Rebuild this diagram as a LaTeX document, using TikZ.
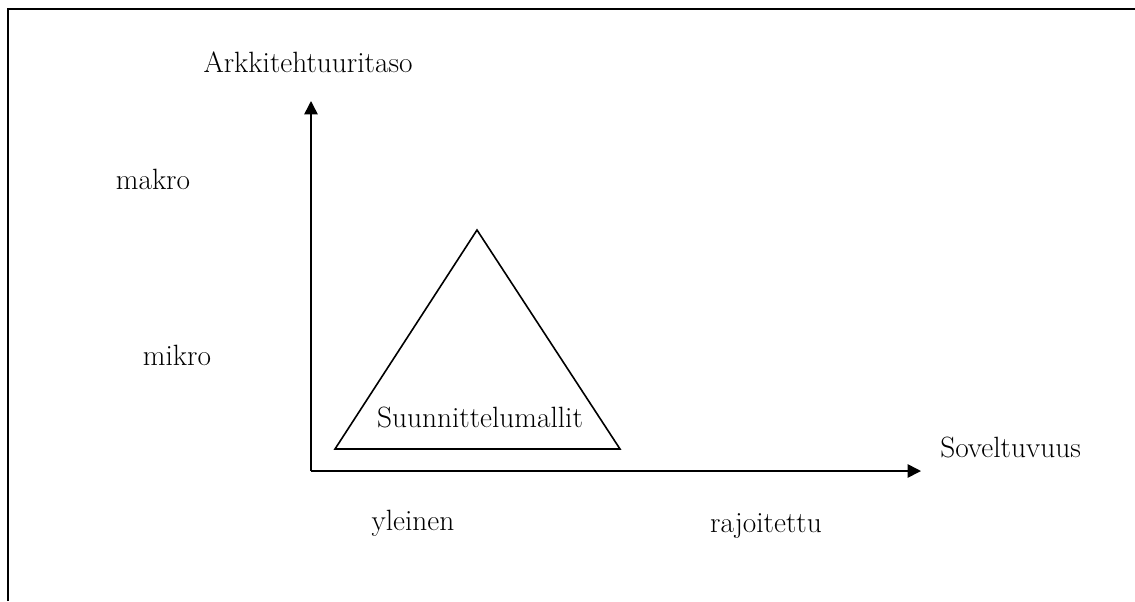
\documentclass[tikz,border=0pt]{standalone}
\usetikzlibrary{arrows.meta}
\tikzset{frame/.style={line width=1.8pt},axis/.style={line width=1.2pt,-{Triangle[length=10pt,width=10pt]}},tri/.style={line width=1.2pt,line join=miter},lbl/.style={inner sep=0pt,anchor=base,font=\fontsize{22}{26}\selectfont}}

\begin{document}
\begin{tikzpicture}[x=0.75pt,y=-0.75pt]
  \useasboundingbox (0,0) rectangle (1135,601);
  \draw[frame](8,601)--(8,9)--(1135,9);
  % axes
  \coordinate(o) at (311,471);
  \coordinate(ytip) at (311,101);
  \coordinate(xtip) at (921,471);
  \draw[axis](o)--(ytip);
  \draw[axis](o)--(xtip);
  % triangle
  \coordinate(top) at (477,230);
  \coordinate(bl) at (335,449);
  \coordinate(br) at (620,449);
  \draw[tri](bl)--(top)--(br)--cycle;
  % labels
  \node[lbl](ytitle) at (308,72){Arkkitehtuuritaso};
  \node[lbl](makro) at (153,189){makro};
  \node[lbl](mikro) at (177,365){mikro};
  \node[lbl](patterns) at (480,427){Suunnittelumallit};
  \node[lbl,anchor=base west](xtitle) at (940,457){Soveltuvuus};
  \node[lbl](yleinen) at (413,530){yleinen};
  \node[lbl](rajoitettu) at (766,532){rajoitettu};
\end{tikzpicture}
\end{document}
